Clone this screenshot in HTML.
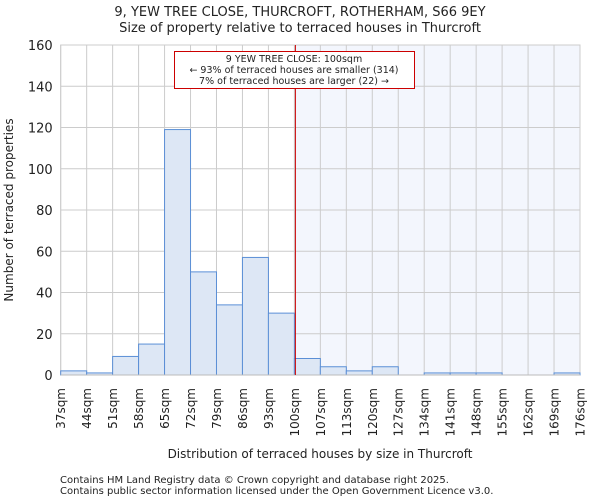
<!DOCTYPE html>
<html><head><meta charset="utf-8"><style>
body{margin:0;background:#fff;font-family:"DejaVu Sans","Liberation Sans",sans-serif}
svg text{font-family:"DejaVu Sans","Liberation Sans",sans-serif;fill:#222}
</style></head><body>
<svg id="chart" width="600" height="500" xmlns="http://www.w3.org/2000/svg">
<text x="300" y="16" font-size="13" text-anchor="middle">9, YEW TREE CLOSE, THURCROFT, ROTHERHAM, S66 9EY</text>
<text x="300" y="32" font-size="13" text-anchor="middle">Size of property relative to terraced houses in Thurcroft</text>
<g id="plot"></g>
<text x="320" y="458" font-size="12" text-anchor="middle">Distribution of terraced houses by size in Thurcroft</text>
<text transform="translate(13,210) rotate(-90)" font-size="12" text-anchor="middle">Number of terraced properties</text>
<text x="60" y="483" font-size="10" fill="#444">Contains HM Land Registry data © Crown copyright and database right 2025.</text>
<text x="60" y="494" font-size="10" fill="#444">Contains public sector information licensed under the Open Government Licence v3.0.</text>
</svg>
<script>
const binLabels=["37sqm","44sqm","51sqm","58sqm","65sqm","72sqm","79sqm","86sqm","93sqm","100sqm","107sqm","113sqm","120sqm","127sqm","134sqm","141sqm","148sqm","155sqm","162sqm","169sqm","176sqm"];
const counts=[2,1,9,15,119,50,34,57,30,8,4,2,4,0,1,1,1,0,0,1];
const yTicks=[0,20,40,60,80,100,120,140,160];
const propertyBinIndex=9;
const NS="http://www.w3.org/2000/svg";
const L=60.7,R=580,T=45,B=375,yMax=160;
const bw=(R-L)/counts.length;
const x=i=>L+i*bw;
const y=v=>B-(v/yMax)*(B-T);
const g=document.getElementById('plot');
function mk(tag,attrs,parent){const e=document.createElementNS(NS,tag);for(const k in attrs)e.setAttribute(k,attrs[k]);(parent||g).appendChild(e);return e;}
const shade=mk('rect',{x:x(propertyBinIndex),y:T,width:R-x(propertyBinIndex),height:B-T,fill:'#f3f6fd'});


yTicks.forEach(t=>{
 const ln=mk('line',{x1:L,x2:R,y1:y(t),y2:y(t),stroke:'#ccc','stroke-width':1});
 
 
 const tx=mk('text',{x:L-8,y:y(t)+5,'font-size':13,'text-anchor':'end'});
 tx.textContent=t;
 
 
});
binLabels.forEach((lab,i)=>{
 const ln=mk('line',{x1:x(i),x2:x(i),y1:T,y2:B,stroke:'#ccc','stroke-width':1});
 
 
 const tx=mk('text',{transform:`translate(${x(i)+4.5},388) rotate(-90)`,'font-size':12,'text-anchor':'end'});
 tx.textContent=lab;
 
 
});
mk('rect',{x:L,y:T,width:R-L,height:B-T,fill:'none',stroke:'#ccc'});
counts.forEach((c,i)=>{
 if(c<=0)return;
 const r=mk('rect',{x:x(i),y:y(c),width:bw,height:B-y(c),fill:'#dde7f5',stroke:'#5b8fd6','stroke-width':1});
 
 
});
const ax=mk('line',{x1:L,x2:R,y1:B,y2:B,stroke:'#bbb'});
const red=mk('line',{x1:x(propertyBinIndex)+1,x2:x(propertyBinIndex)+1,y1:T,y2:B,stroke:'#cc0000','stroke-width':1});


const box=mk('rect',{x:174.5,y:51.5,width:240,height:37,fill:'#fff',stroke:'#cc0000'});


["9 YEW TREE CLOSE: 100sqm","← 93% of terraced houses are smaller (314)","7% of terraced houses are larger (22) →"].forEach((s,k)=>{
 const t=mk('text',{x:294,y:62+k*11,'font-size':9.5,'text-anchor':'middle'});
 t.textContent=s;
 
 
});
</script>
</body></html>
